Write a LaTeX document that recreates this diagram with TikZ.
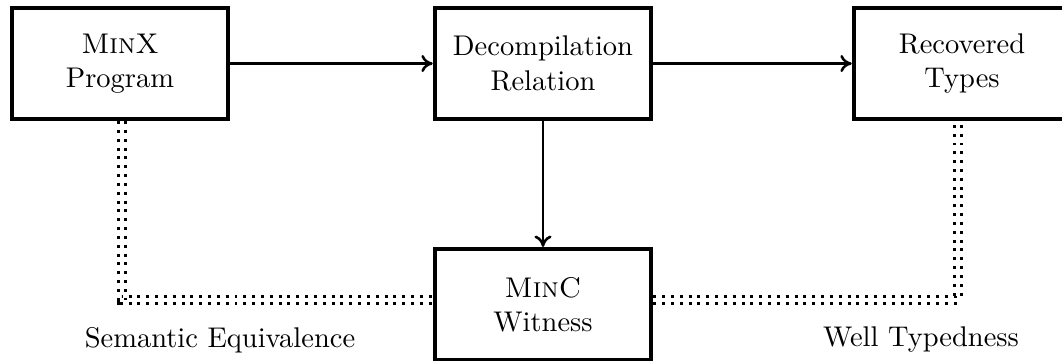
\documentclass[tikz,border=0pt]{standalone}
\usetikzlibrary{arrows.meta}
\begin{document}
\begin{tikzpicture}[x=0.351pt,y=-0.351pt,
  box/.style={draw,line width=1.4pt,minimum width=76pt,minimum height=39pt,align=center,inner sep=2pt,fill=white},
  arr/.style={line width=0.9pt,-{To[length=4pt,width=6pt]}},
  dbl/.style={line width=1.05pt,dash pattern=on 1.05pt off 2.05pt,double,double distance=1.1pt},
  lbl/.style={inner sep=0pt}]
\useasboundingbox (0,0) rectangle (1062,360);
\node[box] (b1) at (120,63.5) {\textsc{MinX}\\Program};
\node[box] (b2) at (543,63.5) {Decompilation\\Relation};
\node[box] (b3) at (962,63.5) {Recovered\\Types};
\node[box] (b4) at (543,304.5) {\textsc{MinC}\\Witness};
\coordinate (cl) at (122,300);
\coordinate (cr) at (958,300);
\draw[arr] (b1) -- (b2);
\draw[arr] (b2) -- (b3);
\draw[arr] (b2) -- (b4);
\draw[dbl] (b1.south -| cl) -- (cl) -- (cl -| b4.west);
\draw[dbl] (cr -| b4.east) -- (cr) -- (b3.south -| cr);
\node[lbl] (se) at (220,340) {Semantic Equivalence};
\node[lbl] (wt) at (921,340) {Well Typedness};
\end{tikzpicture}
\end{document}
